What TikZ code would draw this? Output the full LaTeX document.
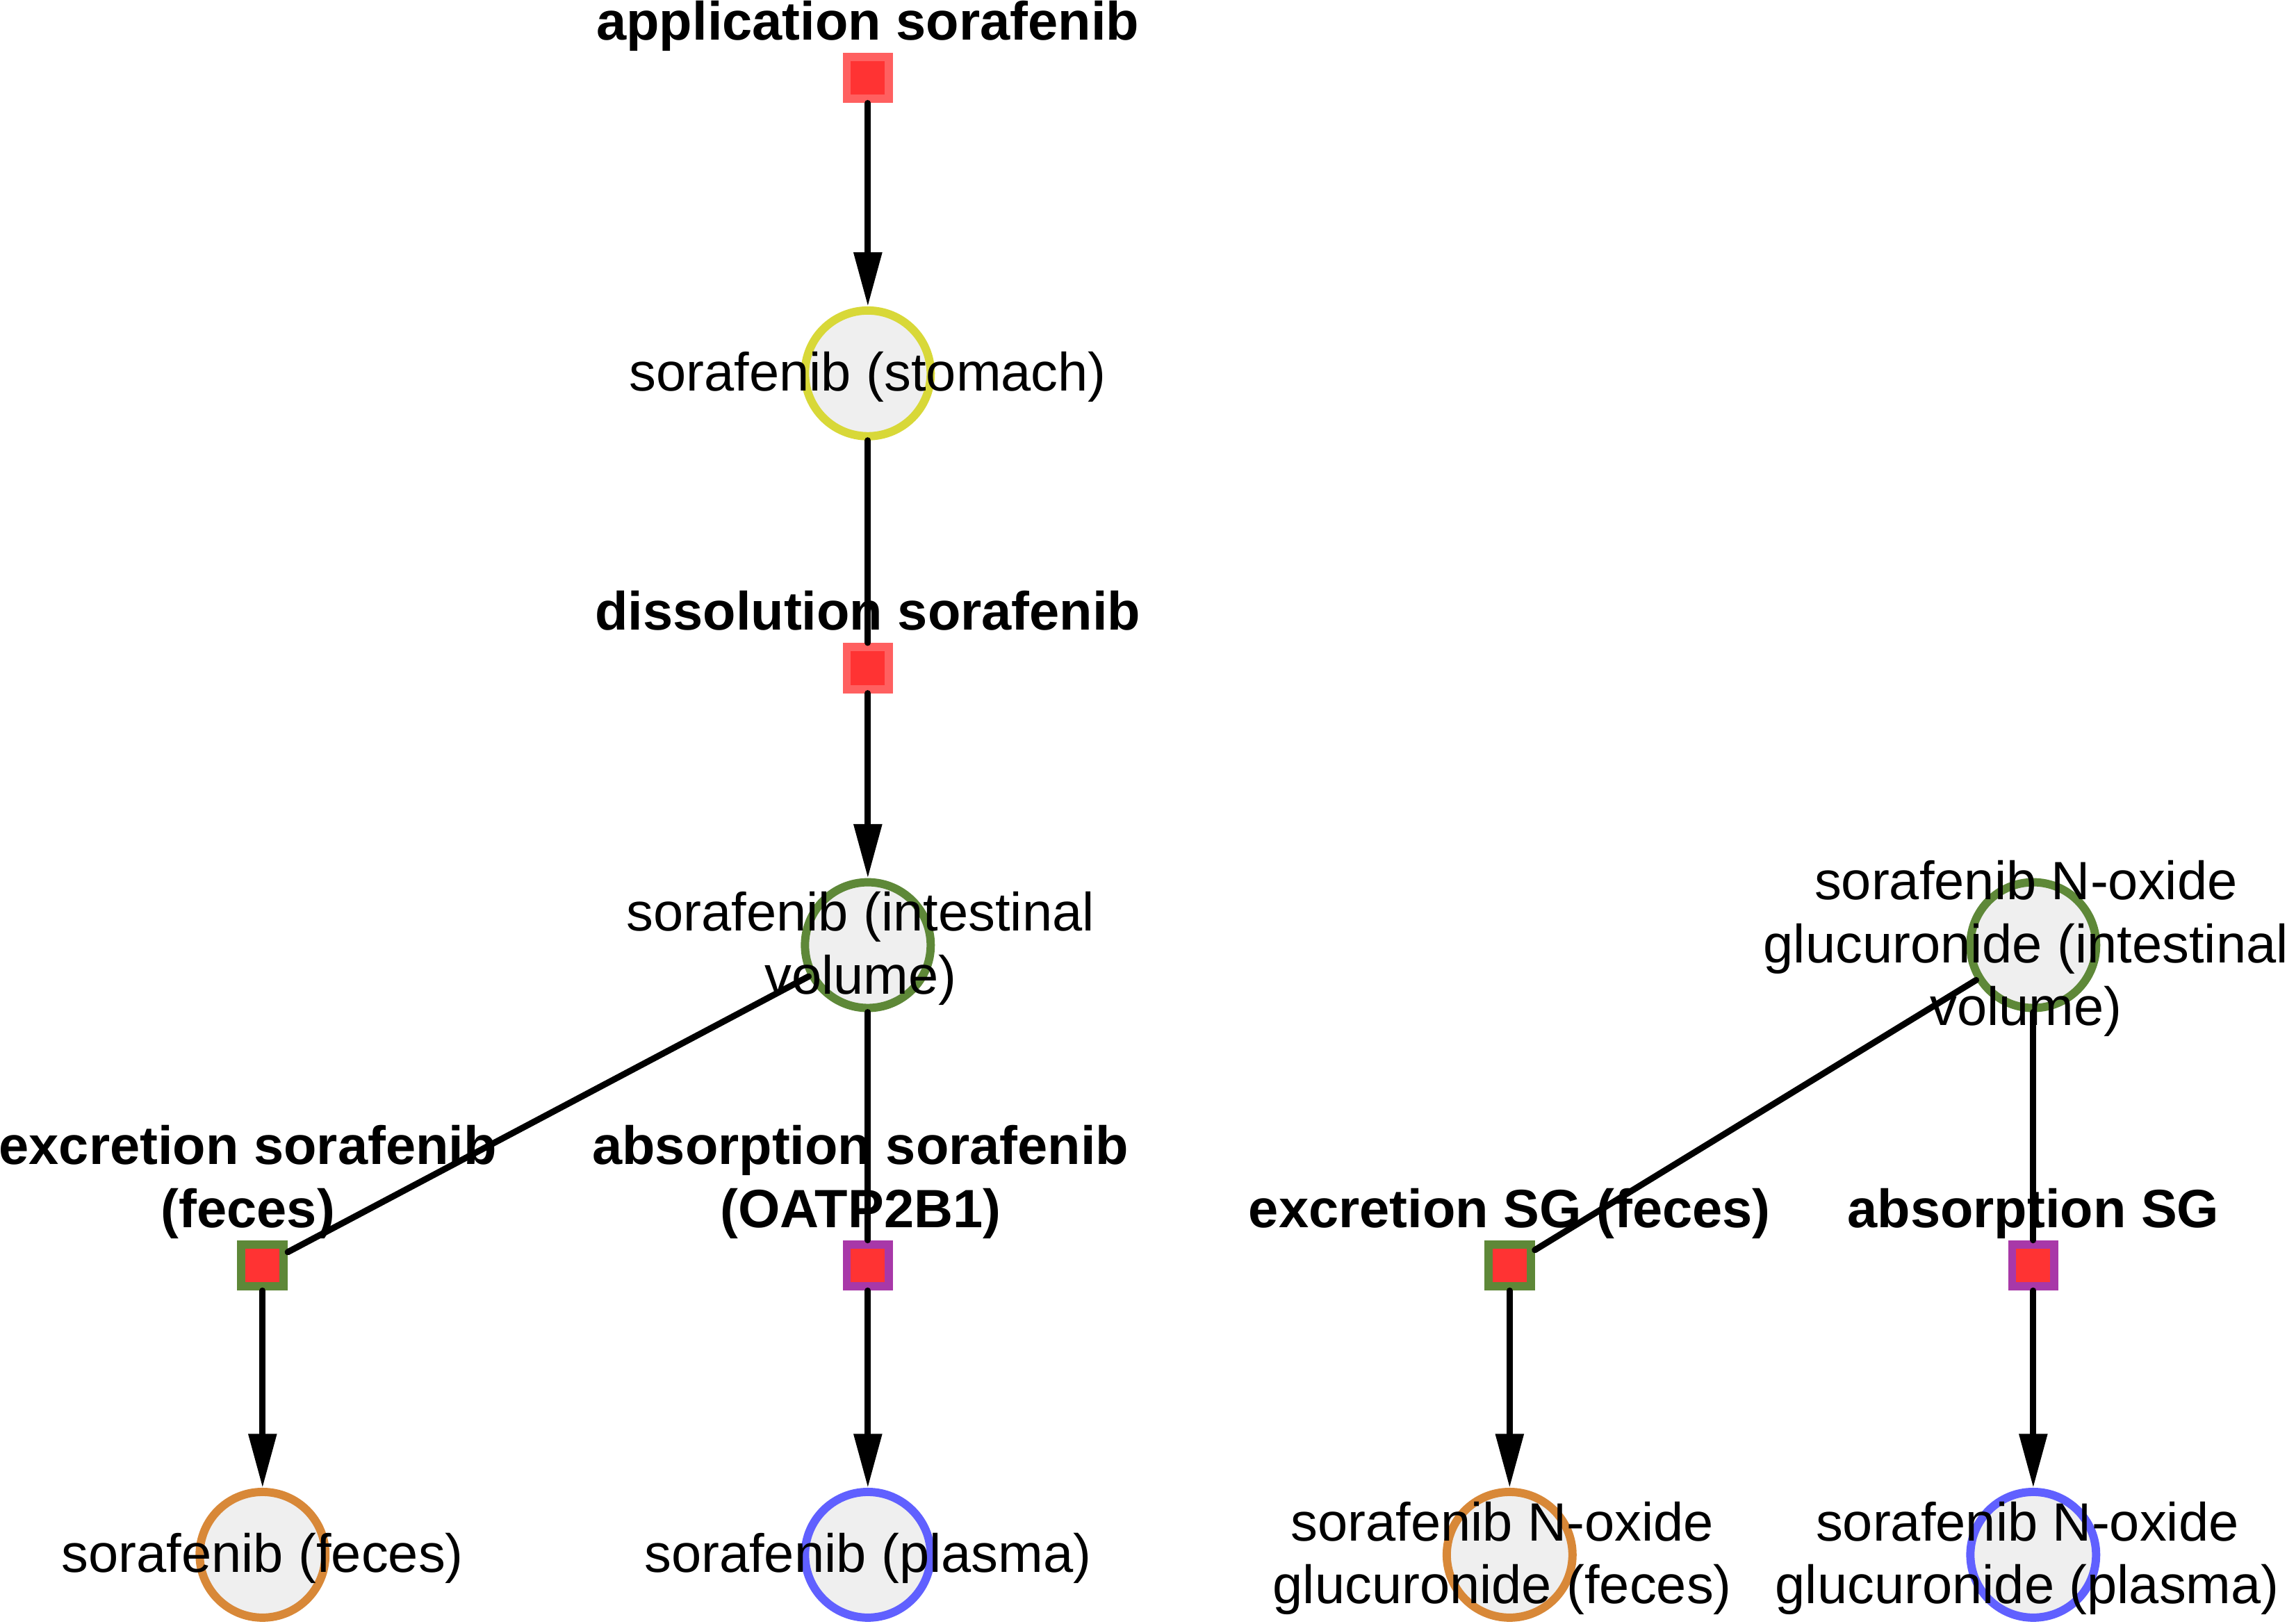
\documentclass[tikz,border=0pt]{standalone}
\usepackage{fontspec}
\setmainfont{Liberation Sans}
\usepackage{tikz}
\usetikzlibrary{arrows.meta,positioning}
\definecolor{sfred}{RGB}{255,51,51}
\definecolor{sflightred}{RGB}{255,96,96}
\definecolor{sfgreen}{RGB}{94,136,56}
\definecolor{sfpurple}{RGB}{168,56,168}
\definecolor{sfyellow}{RGB}{216,216,56}
\definecolor{sforange}{RGB}{216,136,56}
\definecolor{sfblue}{RGB}{96,96,255}
\definecolor{sfgrey}{RGB}{239,239,239}
\newcommand{\sfsize}{\fontsize{22.1pt}{25.8pt}\selectfont}
\tikzset{
  sfspec/.style={circle, draw=#1, line width=3.4pt, fill=sfgrey, minimum size=1.81cm, inner sep=0pt},
  sfreac/.style={rectangle, draw=#1, line width=3.4pt, fill=sfred, minimum size=0.607cm, inner sep=0pt},
  sfname/.style={align=center, inner sep=0pt, yshift=-0.05cm},
  sfreacname/.style={align=center, font=\sfsize\bfseries, inner sep=0pt, outer sep=0pt, execute at end node={\vphantom{(}}},
  sfline/.style={line width=2.57pt, line cap=round},
  sfarr/.style={sfline, -{Triangle[length=0.777cm, width=0.39cm]}}
}

\begin{document}
\begin{tikzpicture}[font=\sfsize, x=0.020989cm, y=-0.020989cm]
  \useasboundingbox (0,0) rectangle (1568,1113);

  % sorafenib
  \node[sfreac=sflightred] (app) at (595,53.4) {};
  \node[sfspec=sfyellow] (stomach) at (595,256) {};
  \node[sfreac=sflightred] (diss) at (595,458) {};
  \node[sfspec=sfgreen] (intest) at (595,648) {};
  \node[sfreac=sfgreen] (excr) at (180,867.6) {};
  \node[sfreac=sfpurple] (absorp) at (595,867.6) {};
  \node[sfspec=sforange] (feces) at (180,1066) {};
  \node[sfspec=sfblue] (plasma) at (595,1066) {};

  % sorafenib N-oxide glucuronide
  \node[sfspec=sfgreen] (sgint) at (1394,648) {};
  \node[sfreac=sfgreen] (sgexcr) at (1035,867.6) {};
  \node[sfreac=sfpurple] (sgabs) at (1394,867.6) {};
  \node[sfspec=sforange] (sgfeces) at (1035,1066) {};
  \node[sfspec=sfblue] (sgplasma) at (1394,1066) {};

  \node[sfname] (stomach-t) at (stomach) {sorafenib (stomach)};
  \node[sfname, xshift=-0.105cm] (intest-t) at (intest) {sorafenib (intestinal\\volume)};
  \node[sfname] (feces-t) at (feces) {sorafenib (feces)};
  \node[sfname] (plasma-t) at (plasma) {sorafenib (plasma)};
  \node[sfname, xshift=-0.105cm] (sgint-t) at (sgint) {sorafenib N-oxide\\glucuronide (intestinal\\volume)};
  \node[sfname, xshift=-0.105cm] (sgfeces-t) at (sgfeces) {sorafenib N-oxide\\glucuronide (feces)};
  \node[sfname, xshift=-0.085cm] (sgplasma-t) at (sgplasma) {sorafenib N-oxide\\glucuronide (plasma)};

  \node[sfreacname, above=0.025cm of app] (app-t) {application sorafenib};
  \node[sfreacname, above=0.025cm of diss] (diss-t) {dissolution sorafenib};
  \node[sfreacname, above=0.025cm of excr, xshift=-0.21cm] (excr-t) {excretion sorafenib\\(feces)};
  \node[sfreacname, above=0.025cm of absorp, xshift=-0.105cm] (absorp-t) {absorption sorafenib\\(OATP2B1)};
  \node[sfreacname, above=0.025cm of sgexcr] (sgexcr-t) {excretion SG (feces)};
  \node[sfreacname, above=0.025cm of sgabs] (sgabs-t) {absorption SG};

  \draw[sfarr] (app) -- (stomach);
  \draw[sfline] (stomach) -- (diss);
  \draw[sfarr] (diss) -- (intest);
  \draw[sfline] (intest) -- (excr);
  \draw[sfline] (intest) -- (absorp);
  \draw[sfarr] (excr) -- (feces);
  \draw[sfarr] (absorp) -- (plasma);
  \draw[sfline] (sgint) -- (sgexcr);
  \draw[sfline] (sgint) -- (sgabs);
  \draw[sfarr] (sgexcr) -- (sgfeces);
  \draw[sfarr] (sgabs) -- (sgplasma);
\end{tikzpicture}
\end{document}
